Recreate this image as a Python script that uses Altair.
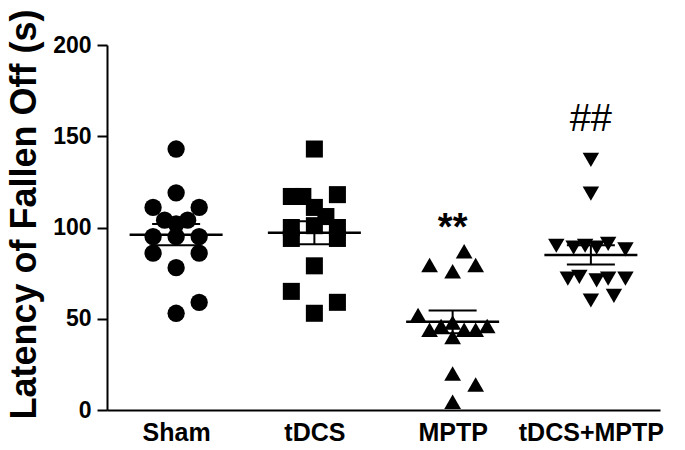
import altair as alt
import pandas as pd

groups = ["Sham", "tDCS", "MPTP", "tDCS+MPTP"]
shapes = ["circle", "square", "triangle-up", "triangle-down"]

# values (s)
sham = [143, 119, 111, 111, 104, 104, 102, 95, 95, 95, 86, 86, 78, 59, 53]
sham_slot = [0, 0, -2, 2, -1, 1, 0, -2, 0, 2, -2, 2, 0, 2, 0]

tdcs = [143, 118, 117, 117, 111, 106, 100, 101, 100, 94, 94, 79, 65, 59, 53]
tdcs_slot = [0, 2, -2, -1, 0, 1, -2, 0, 2, -2, 2, 0, -2, 2, 0]

mptp = [87, 79.5, 76, 79.5, 52, 46, 44, 46, 48, 40, 44, 44, 20, 14, 4.5]
mptp_slot = [1, -2, 0, 2, -3, 3, -2, -1, 0, 0, 1, 2, 0, 2, 0]

combo = [137, 118.5, 90, 89, 90, 89, 91, 88, 72, 73, 71, 72, 72, 62.5, 60]
combo_slot = [0, 0, -3, -1.5, -0.5, 0.5, 1.5, 3, -2, -1, 0.5, 1.5, 3, 2, 0]

ann_text = ["**", "##"]
ann_group = [2, 3]
ann_y = [93, 153]

rows = []
for gi, (vals, slots) in enumerate([(sham, sham_slot), (tdcs, tdcs_slot),
                                     (mptp, mptp_slot), (combo, combo_slot)]):
    for v, s in zip(vals, slots):
        rows.append({"group": groups[gi], "gi": gi, "value": v, "slot": s})
df = pd.DataFrame(rows)
ann = pd.DataFrame({"text": ann_text, "gi": ann_group, "y": ann_y})

FONT = "Liberation Sans"
SLOT = 11.5 / 138.0

xscale = alt.Scale(domain=[-0.5, 3.5], nice=False, zero=False)
yscale = alt.Scale(domain=[0, 200], nice=False)

label_expr = "[" + ",".join("'" + g + "'" for g in groups) + "][datum.value]"

xaxis = alt.Axis(values=[0, 1, 2, 3], labelExpr=label_expr, title=None, ticks=False,
                 grid=False, domainColor="black", domainWidth=2,
                 labelFont=FONT, labelFontWeight="bold", labelFontSize=25,
                 labelColor="black", labelPadding=10, labelFlush=False)
yaxis = alt.Axis(values=[0, 50, 100, 150, 200], title="Latency of Fallen Off (s)",
                 grid=False, domainColor="black", domainWidth=2, tickColor="black",
                 tickWidth=2, tickSize=10, labelFont=FONT, labelFontWeight="bold",
                 labelFontSize=23, labelColor="black", labelPadding=6,
                 titleFont=FONT, titleFontWeight="bold", titleFontSize=36,
                 titleColor="black", titleAngle=270, titleAlign="center",
                 titleBaseline="alphabetic", titleX=-72, titleY=169)

points = alt.Chart(df).transform_calculate(
    xpos="datum.gi + datum.slot * %f" % SLOT
).mark_point(filled=True, opacity=1, color="black").encode(
    x=alt.X("xpos:Q", scale=xscale, axis=xaxis),
    y=alt.Y("value:Q", scale=yscale, axis=yaxis),
    shape=alt.Shape("group:N", scale=alt.Scale(domain=groups, range=shapes), legend=None),
    size=alt.Size("group:N", scale=alt.Scale(domain=groups, range=[300, 270, 300, 300]),
                  legend=None),
)

stats = alt.Chart(df).transform_aggregate(
    mean="mean(value)", sd="stdev(value)", n="count()", groupby=["group", "gi"]
).transform_calculate(
    sem="datum.sd / sqrt(datum.n)",
    lo="datum.mean - datum.sem",
    hi="datum.mean + datum.sem",
)

err = stats.mark_rule(color="black", strokeWidth=2).encode(
    x=alt.X("gi:Q", scale=xscale), y=alt.Y("lo:Q", scale=yscale), y2="hi:Q")
mean_tick = stats.mark_tick(orient="horizontal", size=93, thickness=2.5,
                            color="black", opacity=1).encode(
    x=alt.X("gi:Q", scale=xscale), y=alt.Y("mean:Q", scale=yscale))
caps = stats.transform_fold(["lo", "hi"], as_=["k", "v"]).mark_tick(
    orient="horizontal", size=48, thickness=2, color="black", opacity=1).encode(
    x=alt.X("gi:Q", scale=xscale), y=alt.Y("v:Q", scale=yscale))

ann_base = alt.Chart(ann).encode(
    x=alt.X("gi:Q", scale=xscale), y=alt.Y("y:Q", scale=yscale), text="text:N")
stars = ann_base.transform_filter("datum.text == '**'").mark_text(
    font=FONT, fontSize=38, fontWeight="bold", color="black",
    align="center", baseline="alphabetic")
hashes = ann_base.transform_filter("datum.text == '##'").mark_text(
    font=FONT, fontSize=38, color="black", align="center", baseline="alphabetic")

chart = alt.layer(points, err, caps, mean_tick, stars, hashes).properties(
    width=553, height=365,
    autosize=alt.AutoSizeParams(type="none"),
    padding={"left": 99, "top": 37, "right": 17, "bottom": 40},
    background="white",
).configure_view(stroke=None)

chart.save("out.html", embed_options={"renderer": "svg", "actions": False})
